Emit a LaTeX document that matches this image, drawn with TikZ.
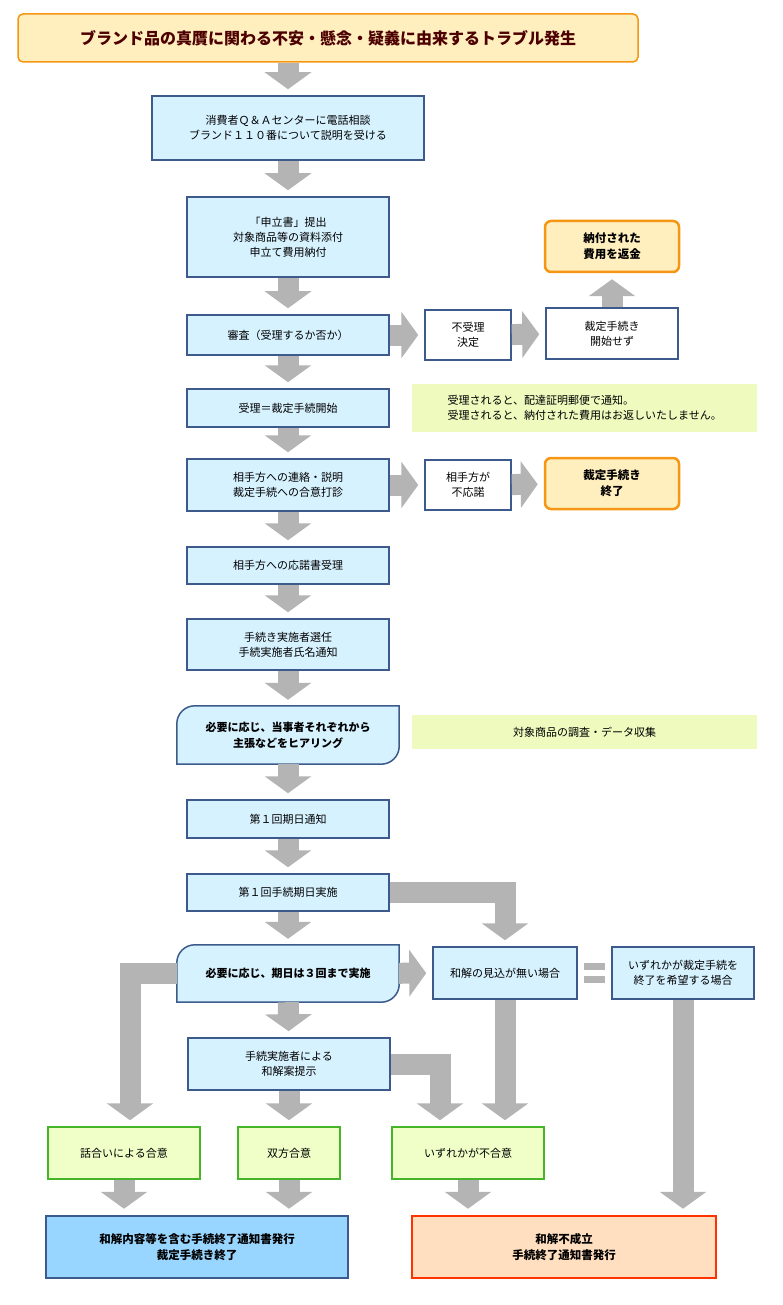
\documentclass[tikz,border=0pt]{standalone}
\usepackage{fontspec}
\setmainfont{Noto Sans CJK JP}
\usetikzlibrary{arrows.meta}
\definecolor{boxfill}{RGB}{215,242,255}
\definecolor{boxline}{RGB}{60,90,140}
\definecolor{notefill}{RGB}{238,250,190}
\definecolor{endfill}{RGB}{255,238,190}
\definecolor{endline}{RGB}{245,150,20}
\definecolor{okfill}{RGB}{240,255,200}
\definecolor{okline}{RGB}{70,180,40}
\definecolor{arrgray}{RGB}{180,180,180}
\tikzset{
  box/.style={draw=boxline, fill=boxfill, line width=1.5pt, align=center,
    font=\fontsize{11}{15}\selectfont, inner sep=2pt},
  wbox/.style={box, fill=white},
  endbox/.style={draw=endline, fill=endfill, line width=2.5pt, rounded corners=6pt,
    align=center, font=\fontsize{11.5}{16}\selectfont\bfseries},
  okbox/.style={box, draw=okline, fill=okfill},
  note/.style={fill=notefill, align=left, inner xsep=14pt,
    font=\fontsize{11}{15}\selectfont},
  bigarr/.style={draw=arrgray, line width=21pt, line join=miter,
    -{Triangle[length=17pt,width=46pt]}, shorten >=6pt},
}
\begin{document}
\begin{tikzpicture}[x=1pt,y=1pt]
\useasboundingbox (0,0) rectangle (782,-1305);

%% Start %%
\node [draw=endline, fill=endfill, line width=1.5pt, rounded corners=5pt,
  minimum width=620pt, minimum height=48pt, text=black!70!red,
  font=\fontsize{16}{20}\selectfont\bfseries] (Trouble) at (328,-38)
  {ブランド品の真贋に関わる不安・懸念・疑義に由来するトラブル発生};

%% Main flow %%
\node [box, minimum width=272pt, minimum height=64pt] (Consult) at (288,-128)
  {消費者Ｑ＆Ａセンターに電話相談\\ブランド１１０番について説明を受ける};
\node [box, minimum width=202pt, minimum height=80pt] (Apply) at (288,-237)
  {「申立書」提出\\対象商品等の資料添付\\申立て費用納付};
\node [box, minimum width=202pt, minimum height=40pt] (Review) at (288,-335)
  {審査（受理するか否か）};
\node [box, minimum width=202pt, minimum height=38pt] (Accept) at (288,-408)
  {受理＝裁定手続開始};
\node [box, minimum width=202pt, minimum height=52pt] (Contact) at (288,-485)
  {相手方への連絡・説明\\裁定手続への合意打診};
\node [box, minimum width=202pt, minimum height=37pt] (Reply) at (288,-565.5)
  {相手方への応諾書受理};
\node [box, minimum width=202pt, minimum height=51pt] (Select) at (288,-644.5)
  {手続き実施者選任\\手続実施者氏名通知};
\node [minimum width=222pt, minimum height=58pt, align=center,
  font=\fontsize{11}{16}\selectfont\bfseries] (Hearing) at (288,-735)
  {必要に応じ、当事者それぞれから\\主張などをヒアリング};
\node [box, minimum width=202pt, minimum height=38pt] (Notice) at (288,-819)
  {第１回期日通知};
\node [box, minimum width=202pt, minimum height=37pt] (Session) at (288,-892.5)
  {第１回手続期日実施};
\node [minimum width=222pt, minimum height=57pt,
  font=\fontsize{11}{16}\selectfont\bfseries] (Repeat) at (288,-973.5)
  {必要に応じ、期日は３回まで実施};
\node [box, minimum width=202pt, minimum height=52pt] (Proposal) at (289,-1064)
  {手続実施者による\\和解案提示};

%% Side branches %%
\node [wbox, minimum width=86pt, minimum height=50pt] (Reject) at (468,-335)
  {不受理\\決定};
\node [wbox, minimum width=132pt, minimum height=51pt] (NoStart) at (612,-333.5)
  {裁定手続き\\開始せず};
\node [endbox, minimum width=134pt, minimum height=51pt] (Refund) at (612,-246.5)
  {納付された\\費用を返金};
\node [wbox, minimum width=86pt, minimum height=50pt] (Refuse) at (468,-485)
  {相手方が\\不応諾};
\node [endbox, minimum width=134pt, minimum height=51pt] (Finish) at (612,-483.5)
  {裁定手続き\\終了};
\node [box, minimum width=144pt, minimum height=52pt] (NoHope) at (505,-973)
  {和解の見込が無い場合};
\node [box, minimum width=142pt, minimum height=52pt] (Quit) at (683,-973)
  {いずれかが裁定手続を\\終了を希望する場合};

%% Notes %%
\node [note, minimum width=345pt, minimum height=48pt, anchor=west] (PostNote) at (412,-408)
  {受理されると、配達証明郵便で通知。\\受理されると、納付された費用はお返しいたしません。};
\node [note, minimum width=345pt, minimum height=34pt, anchor=west] (DataNote) at (412,-732)
  {対象商品の調査・データ収集};

%% Results %%
\node [okbox, minimum width=152pt, minimum height=52pt] (Talk) at (124,-1153) {話合いによる合意};
\node [okbox, minimum width=102pt, minimum height=52pt] (Both) at (289,-1153) {双方合意};
\node [okbox, minimum width=152pt, minimum height=52pt] (Either) at (468,-1153) {いずれかが不合意};
\node [draw=boxline, fill=blue!40!cyan!40, line width=2.5pt, minimum width=302pt,
  minimum height=62pt, align=center, font=\fontsize{11.5}{16}\selectfont\bfseries] (Settle) at (197,-1247)
  {和解内容等を含む手続終了通知書発行\\裁定手続き終了};
\node [draw=red!60!orange, fill=orange!25, line width=2.5pt, minimum width=304pt,
  minimum height=62pt, align=center, font=\fontsize{11.5}{16}\selectfont\bfseries] (Fail) at (564,-1247)
  {和解不成立\\手続終了通知書発行};

% Rounded boxes %%
\foreach \n in {Hearing,Repeat}{
  \begin{scope}[on background layer/.try]
  \draw[draw=boxline, fill=boxfill, line width=1.5pt]
    (\n.south west) -- ([yshift=-18pt]\n.north west)
    arc[start angle=180,end angle=90,radius=18pt] -- (\n.north east)
    -- ([yshift=18pt]\n.south east) arc[start angle=0,end angle=-90,radius=18pt] -- cycle;
  \end{scope}
}
\node [minimum width=222pt, minimum height=58pt, align=center,
  font=\fontsize{11}{16}\selectfont\bfseries] at (Hearing)
  {必要に応じ、当事者それぞれから\\主張などをヒアリング};
\node [minimum width=222pt, minimum height=57pt,
  font=\fontsize{11}{16}\selectfont\bfseries] at (Repeat)
  {必要に応じ、期日は３回まで実施};

%% Arrows %%
\draw[bigarr] (Trouble.south -| Consult) -- (Consult);
\foreach \a/\b in {Consult/Apply,Apply/Review,Review/Accept,Accept/Contact,
  Contact/Reply,Reply/Select,Select/Hearing,Hearing/Notice,Notice/Session,
  Session/Repeat,Repeat/Proposal,Review/Reject,Reject/NoStart,NoStart/Refund,
  Contact/Refuse,Refuse/Finish,Repeat/NoHope}
  \draw[bigarr] (\a) -- (\b);
\draw[bigarr] (Proposal) -- (Proposal |- Both.north);
\draw[bigarr] (Session) -| (NoHope);
\draw[bigarr] (Repeat) -| ([xshift=6pt]Talk.north);
\draw[bigarr] (Proposal) -| ([xshift=-28pt]Either.north);
\draw[bigarr] (NoHope.south) -- (NoHope.south |- Either.north);
\draw[bigarr] (Quit.south) -- (Quit.south |- Fail.north);
\draw[bigarr] (Talk) -- (Talk |- Settle.north);
\draw[bigarr] (Both) -- (Both |- Settle.north);
\draw[bigarr] (Either) -- (Either |- Fail.north);

% equal sign %%
\fill[arrgray] ([xshift=6pt,yshift=3pt]NoHope.east) rectangle ([xshift=-6pt,yshift=10pt]Quit.west);
\fill[arrgray] ([xshift=6pt,yshift=-3pt]NoHope.east) rectangle ([xshift=-6pt,yshift=-10pt]Quit.west);
\end{tikzpicture}
\end{document}
